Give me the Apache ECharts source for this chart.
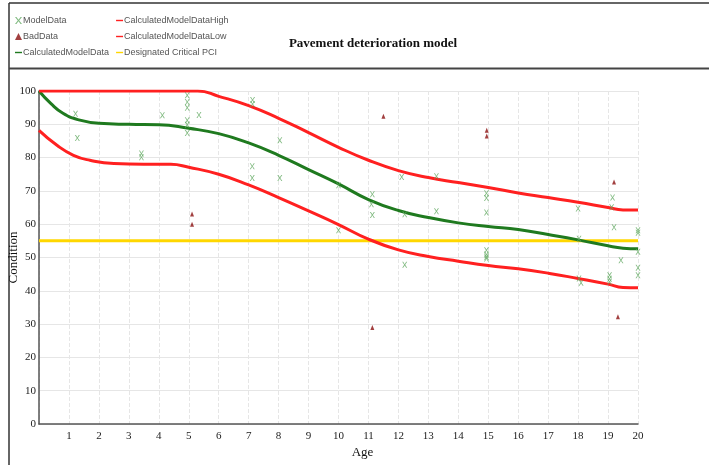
<!DOCTYPE html>
<html><head><meta charset="utf-8">
<script src="https://cdn.jsdelivr.net/npm/echarts@6/dist/echarts.min.js"></script>
<style>html,body{margin:0;padding:0;background:#fff}#c{width:709px;height:465px}</style>
</head><body><div id="c"></div>
<script>
// Tick labels
const ageTicks = [1,2,3,4,5,6,7,8,9,10,11,12,13,14,15,16,17,18,19,20];
const conditionTicks = [0,10,20,30,40,50,60,70,80,90,100];

// ModelData points [age, condition]
const modelData = [
  [1.22,93.2],[1.28,85.9],[3.42,81.2],[3.42,80.1],[4.12,92.7],
  [4.95,98.7],[4.95,96.7],[4.95,95.0],[4.95,91.2],[4.95,89.9],[4.95,87.4],
  [5.34,92.8],[7.13,97.3],[7.13,96.1],[8.04,85.2],[7.12,77.4],[7.12,73.9],[8.04,73.9],
  [10.0,71.7],[10.0,58.2],
  [11.13,69.0],[11.1,66.0],[11.13,62.8],[12.11,74.2],[12.21,63.0],[12.21,47.8],
  [13.27,74.4],[13.27,63.9],
  [14.94,69.3],[14.94,67.9],[14.94,63.5],[14.94,52.2],[14.94,50.9],[14.94,50.2],[14.94,49.7],
  [18.0,64.7],[18.03,55.6],[18.03,43.7],[18.1,42.4],
  [19.15,68.0],[19.12,65.1],[19.2,59.1],[19.43,49.2],
  [19.05,44.7],[19.05,43.6],[19.05,42.7],
  [20.0,58.2],[20.0,57.4],[20.0,51.7],[20.0,46.9],[20.0,44.7]
];

// BadData points [age, condition]
const badData = [
  [5.11,63.1],[5.11,60.0],[11.13,29.0],[11.5,92.4],
  [14.95,88.2],[14.95,86.5],[19.2,72.7],[19.33,32.2]
];

// CalculatedModelData curve
const calcModel = [
  [0,100],[0.4,96.2],[0.8,93.3],[1.3,91.4],[2,90.3],[3,90],[4,89.9],[5,88.8],
  [6,87.2],[7,84.4],[8,80.7],[9,76.4],[10,72.1],[11,67.4],[12,64.1],[13,62],
  [14,60.4],[15,59.3],[16,58.4],[17,56.9],[18,55.3],[19,53.5],[19.5,52.8],[20,52.6]
];

// CalculatedModelDataHigh curve
const calcHigh = [
  [0,100],[5.3,100],[6,98.4],[7,95.6],[8,91.8],[9,87.5],[10,83.1],[11,79.2],
  [12,76.1],[13,74],[14,72.5],[15,71],[16,69.4],[17,68],[18,66.6],[19,65],[19.5,64.3],[20,64.3]
];

// CalculatedModelDataLow curve
const calcLow = [
  [0,88.2],[0.6,83.7],[1.15,80.7],[1.7,79.2],[2.5,78.2],[3.5,78],[4.4,78],[5,77.1],
  [6,75],[7,71.8],[8,68],[9,64],[10,59.9],[11,55.5],[12,52.3],[13,50.3],[14,48.9],
  [15,47.6],[16,46.6],[17,45.3],[18,43.7],[19,42],[19.5,41],[20,40.9]
];

// Designated Critical PCI
const criticalPCI = [[0,55],[20,55]];

const xPath = 'path://M0,0L2,0L5,4L8,0L10,0L6,5L10,10L8,10L5,6L2,10L0,10L4,5Z';
const linePath = 'path://M0,4L10,4L10,6L0,6Z';
const serif = '"Liberation Serif","Times New Roman",serif';
const narrow = '"Liberation Sans Narrow","Arial Narrow","Liberation Sans",sans-serif';

const chart = echarts.init(document.getElementById('c'));
chart.setOption({
  animation: false,
  title: {
    text: 'Pavement deterioration model', left: 368, top: 32, textAlign: 'center',
    textStyle: {fontFamily: serif, fontWeight: 'bold', fontSize: 13, color: '#111'}
  },
  legend: {
    orient: 'vertical', left: 10, top: 11, height: 50, itemGap: 7,
    itemWidth: 7, itemHeight: 7,
    textStyle: {fontFamily: narrow, fontSize: 9, color: '#555', padding: [0,0,0,-4]},
    data: [
      {name: 'ModelData', icon: xPath},
      {name: 'BadData', icon: 'triangle'},
      {name: 'CalculatedModelData', icon: linePath},
      {name: 'CalculatedModelDataHigh', icon: linePath},
      {name: 'CalculatedModelDataLow', icon: linePath},
      {name: 'Designated Critical PCI', icon: linePath}
    ]
  },
  grid: {left: 39, right: 71, top: 91, bottom: 41, containLabel: false, outerBoundsMode: 'none'},
  xAxis: {
    type: 'value', min: 0, max: 20, interval: 1,
    name: 'Age', nameLocation: 'middle', nameGap: 22, nameMoveOverlap: false,
    nameTextStyle: {fontFamily: serif, fontSize: 13, color: '#111', padding: [0,0,0,48]},
    axisLine: {lineStyle: {color: '#555', width: 1.5}},
    axisTick: {show: false},
    axisLabel: {fontFamily: serif, fontSize: 11, color: '#222', margin: 7,
      formatter: v => ageTicks.indexOf(v) >= 0 ? String(v) : ''},
    splitLine: {lineStyle: {color: '#e6e6e6', type: 'dashed'}}
  },
  yAxis: {
    type: 'value', min: 0, max: 100, interval: 10,
    name: 'Condition', nameLocation: 'middle', nameGap: 19, nameMoveOverlap: false,
    nameTextStyle: {fontFamily: serif, fontSize: 13, color: '#111'},
    axisLine: {show: true, lineStyle: {color: '#555', width: 1.5}},
    axisTick: {show: false},
    axisLabel: {fontFamily: serif, fontSize: 11, color: '#222', margin: 3,
      formatter: v => conditionTicks.indexOf(v) >= 0 ? String(v) : ''},
    splitLine: {lineStyle: {color: '#e6e6e6'}}
  },
  graphic: [
    {type: 'line', shape: {x1: 9, y1: 3, x2: 709, y2: 3}, style: {stroke: '#333', lineWidth: 1.5}},
    {type: 'line', shape: {x1: 9, y1: 3, x2: 9, y2: 465}, style: {stroke: '#333', lineWidth: 1.5}},
    {type: 'line', shape: {x1: 9, y1: 68.5, x2: 709, y2: 68.5}, style: {stroke: '#444', lineWidth: 2}}
  ],
  series: [
    {name: 'ModelData', type: 'scatter', data: modelData, symbol: xPath, symbolSize: [5,6],
      itemStyle: {color: '#5fa85f'}, z: 3},
    {name: 'BadData', type: 'scatter', data: badData, symbol: 'triangle', symbolSize: [4,5],
      itemStyle: {color: '#8b1010'}, z: 3},
    {name: 'CalculatedModelData', type: 'line', data: calcModel, smooth: true, showSymbol: false,
      lineStyle: {color: '#1f7a1f', width: 3}, itemStyle: {color: '#1f7a1f'}, z: 2},
    {name: 'CalculatedModelDataHigh', type: 'line', data: calcHigh, smooth: true, showSymbol: false,
      lineStyle: {color: '#ff2020', width: 3}, itemStyle: {color: '#ff2020'}, z: 2},
    {name: 'CalculatedModelDataLow', type: 'line', data: calcLow, smooth: true, showSymbol: false,
      lineStyle: {color: '#ff2020', width: 3}, itemStyle: {color: '#ff2020'}, z: 2},
    {name: 'Designated Critical PCI', type: 'line', data: criticalPCI, showSymbol: false,
      lineStyle: {color: '#ffd700', width: 3}, itemStyle: {color: '#ffd700'}, z: 1}
  ]
});
</script></body></html>
